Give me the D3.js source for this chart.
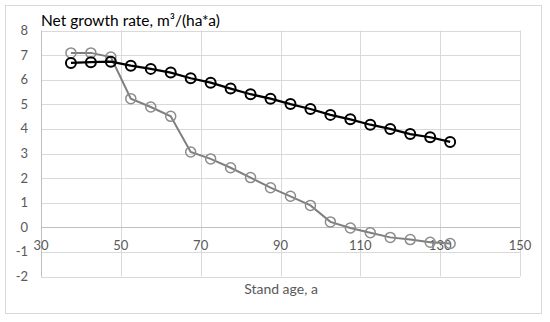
<!DOCTYPE html>
<html lang="en">
<head>
    <meta charset="UTF-8">
    <title>Net growth rate</title>
    <script src="https://d3js.org/d3.v7.min.js"></script>
    <style>
        body { margin: 0; background: #fff; }
        text { font-family: Lato, "Open Sans", sans-serif; }
    </style>
</head>
<body>
    <div id="chart"></div>
    <script>
        // Stand age (a) and net growth rate for both series
        const ages = [37.5, 42.5, 47.5, 52.5, 57.5, 62.5, 67.5, 72.5, 77.5, 82.5,
                      87.5, 92.5, 97.5, 102.5, 107.5, 112.5, 117.5, 122.5, 127.5, 132.5];
        const blackSeries = [6.68, 6.71, 6.73, 6.57, 6.44, 6.29, 6.06, 5.88, 5.64, 5.41,
                             5.23, 5.01, 4.81, 4.57, 4.39, 4.17, 4.00, 3.79, 3.66, 3.47];
        const graySeries = [7.09, 7.09, 6.92, 5.23, 4.89, 4.51, 3.06, 2.78, 2.42, 2.02,
                            1.61, 1.26, 0.89, 0.22, -0.03, -0.22, -0.41, -0.50, -0.61, -0.66];
        const xTicks = [30, 50, 70, 90, 110, 130, 150];
        const yTicks = [-2, -1, 0, 1, 2, 3, 4, 5, 6, 7, 8];

        const W = 550, H = 322;
        const svg = d3.select("#chart").append("svg")
            .attr("width", W).attr("height", H);

        // outer chart border
        svg.append("rect")
            .attr("x", 5.5).attr("y", 5.5)
            .attr("width", 536).attr("height", 308)
            .attr("fill", "#fff").attr("stroke", "#d9d9d9");

        const x = d3.scaleLinear().domain([30, 150]).range([41, 520]);
        const y = d3.scaleLinear().domain([-2, 8]).range([276.5, 30.5]);

        // gridlines
        svg.append("g").selectAll("line.h").data(yTicks).join("line")
            .attr("x1", x(30)).attr("x2", x(150))
            .attr("y1", d => Math.round(y(d)) + 0.5).attr("y2", d => Math.round(y(d)) + 0.5)
            .attr("stroke", "#d9d9d9");
        svg.append("g").selectAll("line.v").data(xTicks.slice(1)).join("line")
            .attr("x1", d => Math.round(x(d)) + 0.5).attr("x2", d => Math.round(x(d)) + 0.5)
            .attr("y1", y(8)).attr("y2", y(-2))
            .attr("stroke", "#d9d9d9");

        // axis lines (y axis at x=30, x axis at y=0)
        svg.append("line")
            .attr("x1", Math.round(x(30)) + 0.5).attr("x2", Math.round(x(30)) + 0.5)
            .attr("y1", y(8)).attr("y2", y(-2))
            .attr("stroke", "#bfbfbf");
        svg.append("line")
            .attr("x1", x(30)).attr("x2", x(150))
            .attr("y1", Math.round(y(0)) + 0.5).attr("y2", Math.round(y(0)) + 0.5)
            .attr("stroke", "#bfbfbf");

        // tick labels
        svg.append("g").selectAll("text").data(yTicks).join("text")
            .attr("x", 28).attr("y", d => y(d) + 4.5)
            .attr("text-anchor", "end")
            .attr("font-size", 13).attr("fill", "#595959")
            .text(d => d);
        svg.append("g").selectAll("text").data(xTicks).join("text")
            .attr("x", d => x(d)).attr("y", y(0) + 23)
            .attr("text-anchor", "middle")
            .attr("font-size", 13).attr("fill", "#595959")
            .text(d => d);

        // titles
        svg.append("text")
            .attr("x", 41).attr("y", 26)
            .attr("font-size", 15.5).attr("fill", "#000")
            .text("Net growth rate, m³/(ha*a)");
        svg.append("text")
            .attr("x", 281).attr("y", 294)
            .attr("text-anchor", "middle")
            .attr("font-size", 14).attr("fill", "#595959")
            .text("Stand age, a");

        const line = d3.line().x(d => x(d[0])).y(d => y(d[1]));
        const grayData = ages.map((a, i) => [a, graySeries[i]]);
        const blackData = ages.map((a, i) => [a, blackSeries[i]]);

        // gray series
        svg.append("path").datum(grayData)
            .attr("d", line).attr("fill", "none")
            .attr("stroke", "#7f7f7f").attr("stroke-width", 2);
        svg.append("g").selectAll("circle").data(grayData).join("circle")
            .attr("cx", d => x(d[0])).attr("cy", d => y(d[1])).attr("r", 5)
            .attr("fill", "none").attr("stroke", "#8c8c8c").attr("stroke-width", 1.5);

        // black series
        svg.append("path").datum(blackData)
            .attr("d", line).attr("fill", "none")
            .attr("stroke", "#000").attr("stroke-width", 2.25);
        svg.append("g").selectAll("circle").data(blackData).join("circle")
            .attr("cx", d => x(d[0])).attr("cy", d => y(d[1])).attr("r", 5)
            .attr("fill", "none").attr("stroke", "#000").attr("stroke-width", 2);
    </script>
</body>
</html>
